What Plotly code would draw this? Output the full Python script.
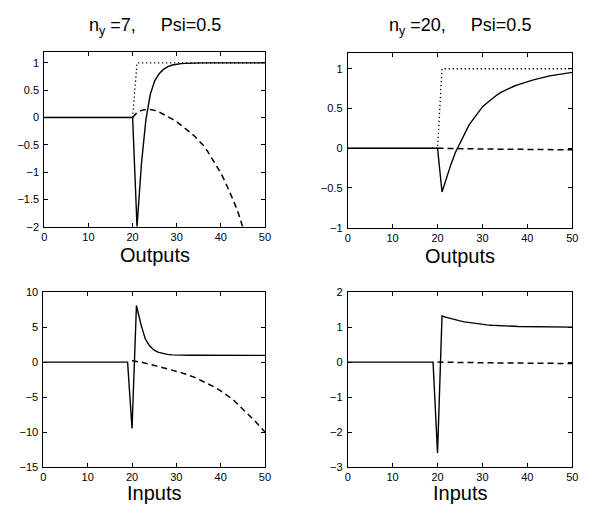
import plotly.graph_objects as go
from plotly.subplots import make_subplots

# ---- data ----
t = list(range(0, 51))

# top-left: n_y = 7, outputs
tl_ref = [0] * 21 + [1] * 30
tl_solid = [0] * 21 + [-2.0, -0.85, -0.05, 0.42, 0.67, 0.80, 0.88, 0.93, 0.96, 0.975,
                       0.985, 0.99, 0.995] + [1.0] * 17
tl_dash = [None] * 20 + [0, 0.09, 0.13, 0.145, 0.145, 0.13, 0.10, 0.06, 0.02, -0.03, -0.08,
                         -0.14, -0.20, -0.27, -0.34, -0.42, -0.51, -0.62, -0.75, -0.88, -1.02,
                         -1.18, -1.36, -1.55, -1.76, -1.99, -2.24, -2.50, -2.80, -3.10, -3.40]

# top-right: n_y = 20, outputs
tr_ref = [0] * 21 + [1] * 30
tr_solid = [0] * 21 + [-0.55, -0.36, -0.20, -0.05, 0.07, 0.19, 0.29, 0.37, 0.45, 0.52,
                       0.57, 0.62, 0.66, 0.70, 0.73, 0.76, 0.78, 0.80, 0.82, 0.84,
                       0.855, 0.87, 0.885, 0.90, 0.91, 0.92, 0.93, 0.94, 0.945, 0.955]
tr_dash = [None] * 20 + [0, 0, -0.001, -0.002, -0.003, -0.004, -0.005, -0.006, -0.007, -0.008,
                         -0.009, -0.010, -0.010, -0.011, -0.011, -0.012, -0.012, -0.013, -0.013,
                         -0.014, -0.014, -0.015, -0.015, -0.016, -0.016, -0.017, -0.017, -0.018,
                         -0.018, -0.019, -0.020]

# bottom-left: n_y = 7, inputs
bl_solid = [0] * 20 + [-9.5, 8.1, 5.4, 3.3, 2.3, 1.7, 1.4, 1.22, 1.1, 1.04, 1.0,
                       0.98, 0.98, 0.98, 0.98, 0.98, 0.98, 0.98, 0.98, 0.98, 0.98,
                       0.97, 0.97, 0.97, 0.97, 0.97, 0.97, 0.97, 0.96, 0.96, 0.96]
bl_dash = [None] * 20 + [0.2, 0.15, 0.0, -0.15, -0.35, -0.5, -0.65, -0.8, -0.95, -1.1, -1.3,
                         -1.5, -1.7, -1.9, -2.15, -2.45, -2.75, -3.05, -3.35, -3.7, -4.1,
                         -4.5, -5.0, -5.5, -6.1, -6.7, -7.3, -7.9, -8.6, -9.3, -10.0]

# bottom-right: n_y = 20, inputs
br_solid = [0] * 20 + [-2.6, 1.32, 1.28, 1.24, 1.21, 1.18, 1.15, 1.13, 1.11, 1.09, 1.075,
                       1.065, 1.055, 1.045, 1.04, 1.035, 1.03, 1.025, 1.02, 1.017, 1.015,
                       1.012, 1.01, 1.008, 1.006, 1.005, 1.004, 1.003, 1.002, 1.001, 1.0]
br_dash = [None] * 20 + [0, 0, -0.002, -0.004, -0.006, -0.008, -0.01, -0.012, -0.014, -0.016,
                         -0.018, -0.02, -0.021, -0.022, -0.023, -0.024, -0.025, -0.026, -0.027,
                         -0.028, -0.029, -0.030, -0.031, -0.032, -0.033, -0.034, -0.035, -0.036,
                         -0.037, -0.038, -0.040]

NB = "\u00a0"
titles = ["n<sub>y</sub> =7," + NB * 4 + " Psi=0.5",
          "n<sub>y</sub> =20," + NB * 4 + " Psi=0.5"]
xlabels = ["Outputs", "Outputs", "Inputs", "Inputs"]
x_ticks = [0, 10, 20, 30, 40, 50]
y_ranges = [[-2, 1.2], [-1, 1.2], [-15, 10], [-3, 2]]
y_ticks = [[-2, -1.5, -1, -0.5, 0, 0.5, 1],
           [-1, -0.5, 0, 0.5, 1],
           [-15, -10, -5, 0, 5, 10],
           [-3, -2, -1, 0, 1, 2]]
y_ticktext = [["\u22122", "\u22121.5", "\u22121", "\u22120.5", "0", "0.5", "1"],
              ["\u22121", "\u22120.5", "0", "0.5", "1"],
              ["\u221215", "\u221210", "\u22125", "0", "5", "10"],
              ["\u22123", "\u22122", "\u22121", "0", "1", "2"]]

FONT = "Liberation Sans, Arial, Helvetica, sans-serif"
W, H = 596, 516

fig = make_subplots(rows=2, cols=2)

solid = dict(color="black", width=1.4)
dashed = dict(color="black", width=1.5, dash="6px,4px")
dotted = dict(color="black", width=1.3, dash="1.3px,2.7px")

panels = [
    (1, 1, [(tl_ref, dotted), (tl_dash, dashed), (tl_solid, solid)]),
    (1, 2, [(tr_ref, dotted), (tr_dash, dashed), (tr_solid, solid)]),
    (2, 1, [(bl_dash, dashed), (bl_solid, solid)]),
    (2, 2, [(br_dash, dashed), (br_solid, solid)]),
]
for r, c, series in panels:
    for ys, ln in series:
        fig.add_trace(go.Scatter(x=t, y=ys, mode="lines", line=ln, showlegend=False,
                                 hoverinfo="skip", connectgaps=False), row=r, col=c)

# pixel boxes of the four axes (left, right, top, bottom)
boxes = [(42, 266, 47, 226), (350, 578, 48, 227), (41, 266, 293, 472), (350, 578, 293, 472)]
label_offsets = [29, 29, 27, 27]

for i, (l, rr, tp, bt) in enumerate(boxes):
    xa = "xaxis" if i == 0 else f"xaxis{i+1}"
    ya = "yaxis" if i == 0 else f"yaxis{i+1}"
    fig.layout[xa].update(
        domain=[l / W, rr / W], range=[0, 50], tickvals=x_ticks,
        showline=True, mirror="ticks", linecolor="black", linewidth=1,
        ticks="inside", ticklen=4, tickcolor="black", showgrid=False, zeroline=False,
        tickfont=dict(family=FONT, size=11, color="black"), ticklabelstandoff=0,
    )
    fig.layout[ya].update(
        domain=[1 - bt / H, 1 - tp / H], range=y_ranges[i], tickvals=y_ticks[i],
        ticktext=y_ticktext[i],
        showline=True, mirror="ticks", linecolor="black", linewidth=1,
        ticks="inside", ticklen=4, tickcolor="black", showgrid=False, zeroline=False,
        tickfont=dict(family=FONT, size=11, color="black"), ticklabelstandoff=2,
    )
    # x label
    fig.add_annotation(text=xlabels[i], x=(l + rr) / 2 / W, y=1 - (bt + label_offsets[i]) / H,
                       xref="paper", yref="paper", showarrow=False,
                       xanchor="center", yanchor="middle",
                       font=dict(family=FONT, size=20, color="black"))

for j, (l, rr, tp, bt) in enumerate(boxes[:2]):
    fig.add_annotation(text=titles[j], x=(l + rr) / 2 / W, y=1 - 21 / H,
                       xref="paper", yref="paper", showarrow=False,
                       xanchor="center", yanchor="middle",
                       font=dict(family=FONT, size=18, color="black"))

fig.update_layout(
    width=W, height=H, margin=dict(l=0, r=0, t=0, b=0),
    paper_bgcolor="white", plot_bgcolor="white",
)

fig.write_html("out.html")
